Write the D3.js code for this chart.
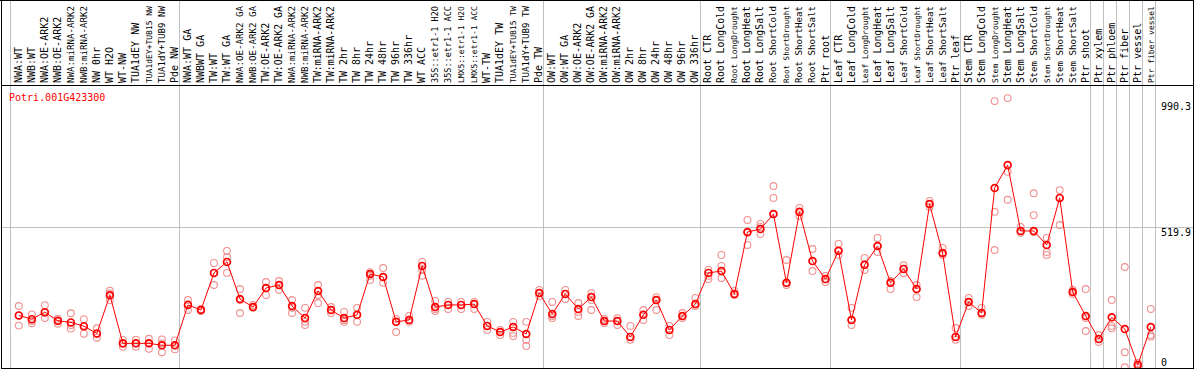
<!DOCTYPE html>
<html><head><meta charset="utf-8">
<script src="https://cdn.jsdelivr.net/npm/d3@7"></script>
<style>
html,body{margin:0;padding:0;background:#fff;}
svg{display:block;}
text{font-family:"DejaVu Sans Mono",monospace;font-size:10px;}
</style></head>
<body>
<svg id="c" width="1194" height="370"></svg>
<script>
const geneName = "Potri.001G423300";
const categories = ["NWA:WT","NWB:WT","NWA:OE-ARK2","NWB:OE-ARK2","NWA:miRNA-ARK2","NWB:miRNA-ARK2","NW 0hr","WT H2O","WT-NW","TUA1dEY NW","TUA1dEY+TUB15 NW","TUA1dY+TUB9 NW","Pde NW",
"NWA:WT GA","NWBWT GA","TW:WT","TW:WT GA","NWA:OE-ARK2 GA","NWB:OE-ARK2 GA","TW:OE-ARK2","TW:OE-ARK2 GA","NWA:miRNA-ARK2","NWB:miRNA-ARK2","TW:miRNA-ARK2","TW:miRNA-ARK2","TW 2hr","TW 8hr","TW 24hr","TW 48hr","TW 96hr","TW 336hr","WT ACC","35S::etr1-1 H2O","35S::etr1-1 ACC","LMX5::etr1-1 H2O","LMX5::etr1-1 ACC","WT-TW","TUA1dEY TW","TUA1dEY+TUB15 TW","TUA1dY+TUB9 TW","Pde TW",
"OW:WT","OW:WT GA","OW:OE-ARK2","OW:OE-ARK2 GA","OW:miRNA-ARK2","OW:miRNA-ARK2","OW 2hr","OW 8hr","OW 24hr","OW 48hr","OW 96hr","OW 336hr",
"Root CTR","Root LongCold","Root LongDrought","Root LongHeat","Root LongSalt","Root ShortCold","Root ShortDrought","Root ShortHeat","Root ShortSalt","Ptr root",
"Leaf CTR","Leaf LongCold","Leaf LongDrought","Leaf LongHeat","Leaf LongSalt","Leaf ShortCold","Leaf ShortDrought","Leaf ShortHeat","Leaf ShortSalt","Ptr leaf",
"Stem CTR","Stem LongCold","Stem LongDrought","Stem LongHeat","Stem LongSalt","Stem ShortCold","Stem ShortDrought","Stem ShortHeat","Stem ShortSalt","Ptr shoot",
"Ptr xylem","Ptr phloem","Ptr fiber","Ptr vessel","Ptr fiber vessel"];
const meanValues = [193,179,205,173,167,153,126,268,89,89,89,82,82,
232,213,351,392,254,224,295,306,228,183,284,213,183,195,347,336,169,176,377,224,232,232,235,154,131,150,124,276,
198,273,217,261,172,172,113,195,250,139,191,235,
351,358,273,503,514,570,314,578,395,328,
433,176,381,451,314,366,291,607,425,113,
243,202,667,752,507,507,455,630,280,191,
105,186,142,9,150];
const rep1 = [228,197,231,181,201,179,145,285,102,103,106,104,100,
250,217,388,433,291,232,317,321,250,221,306,224,206,221,354,369,180,191,392,247,243,243,243,169,139,169,169,288,
243,288,239,276,180,183,154,213,261,154,202,258,
362,418,284,548,533,674,399,593,440,340,
459,221,407,481,321,380,306,619,444,146,
258,221,990,1001,522,647,481,659,288,291,
120,250,373,16,217];
const rep2 = [193,173,203,171,157,151,124,275,87,89,89,89,82,
235,213,351,410,250,224,295,306,221,169,269,213,176,195,340,336,169,176,362,217,232,232,235,154,131,128,102,276,
191,273,206,250,172,172,113,195,250,139,191,235,
340,377,273,500,522,630,314,578,395,328,
433,176,381,451,314,366,291,607,425,113,
243,202,578,727,507,566,429,630,280,183,
105,154,56,9,120];
const rep3 = [155,164,183,162,144,125,110,250,76,76,69,56,67,
213,209,306,351,202,221,269,288,202,157,239,202,169,169,325,314,131,169,340,209,217,217,217,139,120,116,79,265,
183,254,191,213,165,157,102,176,213,120,183,228,
328,332,269,455,496,570,306,563,358,317,
418,157,362,429,291,350,261,596,418,102,
228,195,436,623,500,503,418,529,273,135,
94,145,0,1,114];
const groupBreaks = [0,13,41,53,63,73,83,84,85,86,87,88];
const yTickValues = [0, 519.9, 990.3];
const yTickLabels = ["0","519.9","990.3"];

const svg = d3.select("#c");
const W = 1194;
const plotTop = 85, plotBottom = 368;
const x = d3.scaleBand().domain(d3.range(categories.length)).range([10.5, 1155.5]).padding(0);
const y = d3.scaleLinear().domain([0, 990.3]).range([367.3, 101]);
const px = i => x(i) + 8.3;
const edge = k => (k < categories.length ? x(k) : x.range()[1]);

const defs = svg.append("defs");
defs.append("clipPath").attr("id","plot").append("rect").attr("x",2).attr("y",plotTop+1).attr("width",1191).attr("height",plotBottom-plotTop-1);

// group separator lines (gray)
svg.append("g").selectAll("line").data(groupBreaks).join("line")
  .attr("x1", k => Math.floor(edge(k)) + 0.5)
  .attr("x2", k => Math.floor(edge(k)) + 0.5)
  .attr("y1", 0).attr("y2", plotBottom)
  .attr("stroke", "#c0c0c0").attr("stroke-width", 1);

// horizontal gridline at middle tick
svg.append("line")
  .attr("x1", 1).attr("x2", 1193)
  .attr("y1", Math.round(y(yTickValues[1])) + 0.5).attr("y2", Math.round(y(yTickValues[1])) + 0.5)
  .attr("stroke", "#c0c0c0").attr("stroke-width", 1);

// header labels (long ones set smaller so they fit the header height)
const maxLen = 77;
svg.append("g").selectAll("text").data(categories).join("text")
  .attr("transform", (d,i) => `translate(${x(i)+11.3},83) rotate(-90)`)
  .attr("fill","#000")
  .text(d => d)
  .each(function(){
    const L = this.getComputedTextLength();
    if (L > maxLen) {
      d3.select(this).style("font-size", (10 * maxLen / L).toFixed(2) + "px");
    }
  });

// borders
const border = svg.append("g").attr("stroke","#000").attr("stroke-width",1).attr("shape-rendering","crispEdges");
border.append("line").attr("x1",0).attr("x2",W).attr("y1",0.5).attr("y2",0.5);
border.append("line").attr("x1",1.5).attr("x2",1.5).attr("y1",0).attr("y2",369);
border.append("line").attr("x1",1193.5).attr("x2",1193.5).attr("y1",0).attr("y2",369);
border.append("line").attr("x1",1).attr("x2",1194).attr("y1",plotTop+0.5).attr("y2",plotTop+0.5);
border.append("line").attr("x1",1).attr("x2",1194).attr("y1",plotBottom+0.5).attr("y2",plotBottom+0.5);

// title
svg.append("text").attr("x", 9).attr("y", 101).attr("fill","#ff0000").text(geneName);

// y tick labels
svg.append("g").selectAll("text").data(yTickValues).join("text")
  .attr("x", 1161)
  .attr("y", v => Math.min(y(v) + 8.7, 366))
  .attr("fill","#000")
  .text((v,i) => yTickLabels[i]);

const g = svg.append("g").attr("clip-path","url(#plot)");
// replicates
const reps = [];
[rep1, rep2, rep3].forEach(arr => arr.forEach((v,i) => reps.push({i, v})));
g.append("g").selectAll("circle").data(reps).join("circle")
  .attr("cx", d => px(d.i)).attr("cy", d => y(d.v)).attr("r", 3.4)
  .attr("fill","none").attr("stroke","#f09090").attr("stroke-width",1.1);

// mean line
g.append("path").datum(meanValues)
  .attr("d", d3.line().x((v,i) => px(i)).y(v => y(v)))
  .attr("fill","none").attr("stroke","#ff0000").attr("stroke-width",1);

// mean circles
g.append("g").selectAll("circle").data(meanValues).join("circle")
  .attr("cx", (v,i) => px(i)).attr("cy", v => y(v)).attr("r", 3.4)
  .attr("fill","none").attr("stroke","#ff0000").attr("stroke-width",1.7);
</script>
</body></html>
